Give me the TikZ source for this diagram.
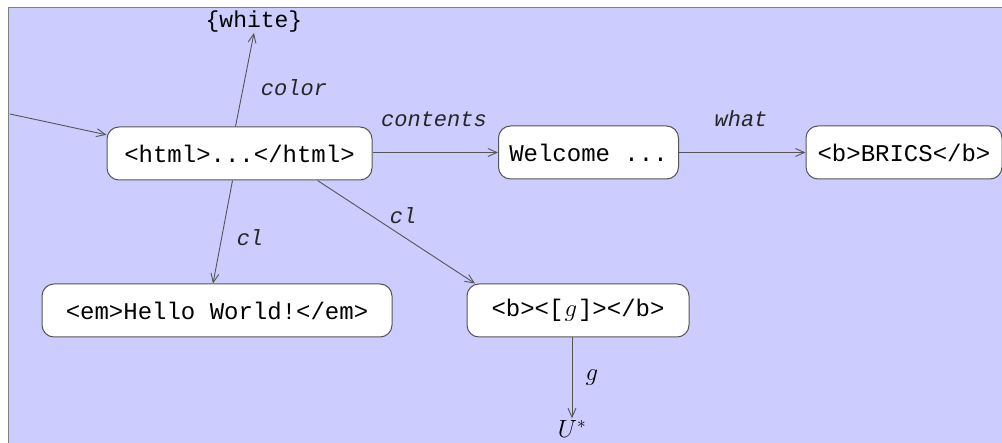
\documentclass[tikz,border=0pt]{standalone}
\usepackage{fontspec}
\setmainfont{Liberation Mono}
\usetikzlibrary{arrows.meta}
\definecolor{bg}{HTML}{CCCCFF}
\definecolor{ln}{HTML}{555555}
\begin{document}
\begin{tikzpicture}[x=1pt,y=-1pt,
  box/.style={draw=ln, fill=white, rounded corners=12pt, line width=1pt, inner sep=0pt,
              minimum height=53pt, font=\fontsize{24}{28}\selectfont},
  lab/.style={font=\fontsize{22}{26}\selectfont\itshape, text=black!85, inner sep=0pt},
  plain/.style={font=\fontsize{23}{27}\selectfont, inner sep=0pt},
  edge/.style={draw=ln, line width=0.9pt, -{Straight Barb[length=9pt,width=8pt]}}]
\useasboundingbox (0,0) rectangle (1002,443);
\fill[bg] (8,8) rectangle (1002,443);
\draw[gray, line width=1pt] (8,443) -- (8,8) -- (1002,8);

\node[box, minimum width=265pt] (html) at (239.5,153.5) {<html>...</html>};
\node[box, minimum width=180pt] (wel) at (588.5,152.5) {Welcome ...};
\node[box, minimum width=196pt] (brics) at (904,152.5) {<b>BRICS</b>};
\node[box, minimum width=350pt] (hello) at (217,310.5) {<em>Hello World!</em>};
\node[box, minimum width=222pt] (bg) at (578,310.5) {<b><[\kern1pt$g$\kern1pt]></b>};
\node[plain] (white) at (254,22) {\{white\}};
\node[font=\fontsize{24}{28}\selectfont, inner sep=2pt] (ustar) at (572,429) {$U^*$};
\coordinate (start) at (10,114);

\draw[edge] (start) -- (html.172);
\draw[edge] ([xshift=-4pt]html.north) -- (white.south);
\draw[edge] (html.east |- wel.west) -- (wel.west);
\draw[edge] (wel.east) -- (brics.west);
\draw[edge] ([xshift=-7pt]html.south) -- ([xshift=-4pt]hello.north);
\draw[edge] ([xshift=78pt]html.south) -- ([xshift=-103pt]bg.north);
\draw[edge] ([xshift=-6pt]bg.south) -- (ustar.north);

\node[lab] (lcolor) at (294,88) {color};
\node[lab] (lcont) at (434,119) {contents};
\node[lab] (lwhat) at (741,119) {what};
\node[lab] (lcl1) at (250,238) {cl};
\node[lab] (lcl2) at (403,216) {cl};
\node[font=\fontsize{24}{28}\selectfont, inner sep=0pt] (lg) at (592,378) {$g$};
\end{tikzpicture}
\end{document}
